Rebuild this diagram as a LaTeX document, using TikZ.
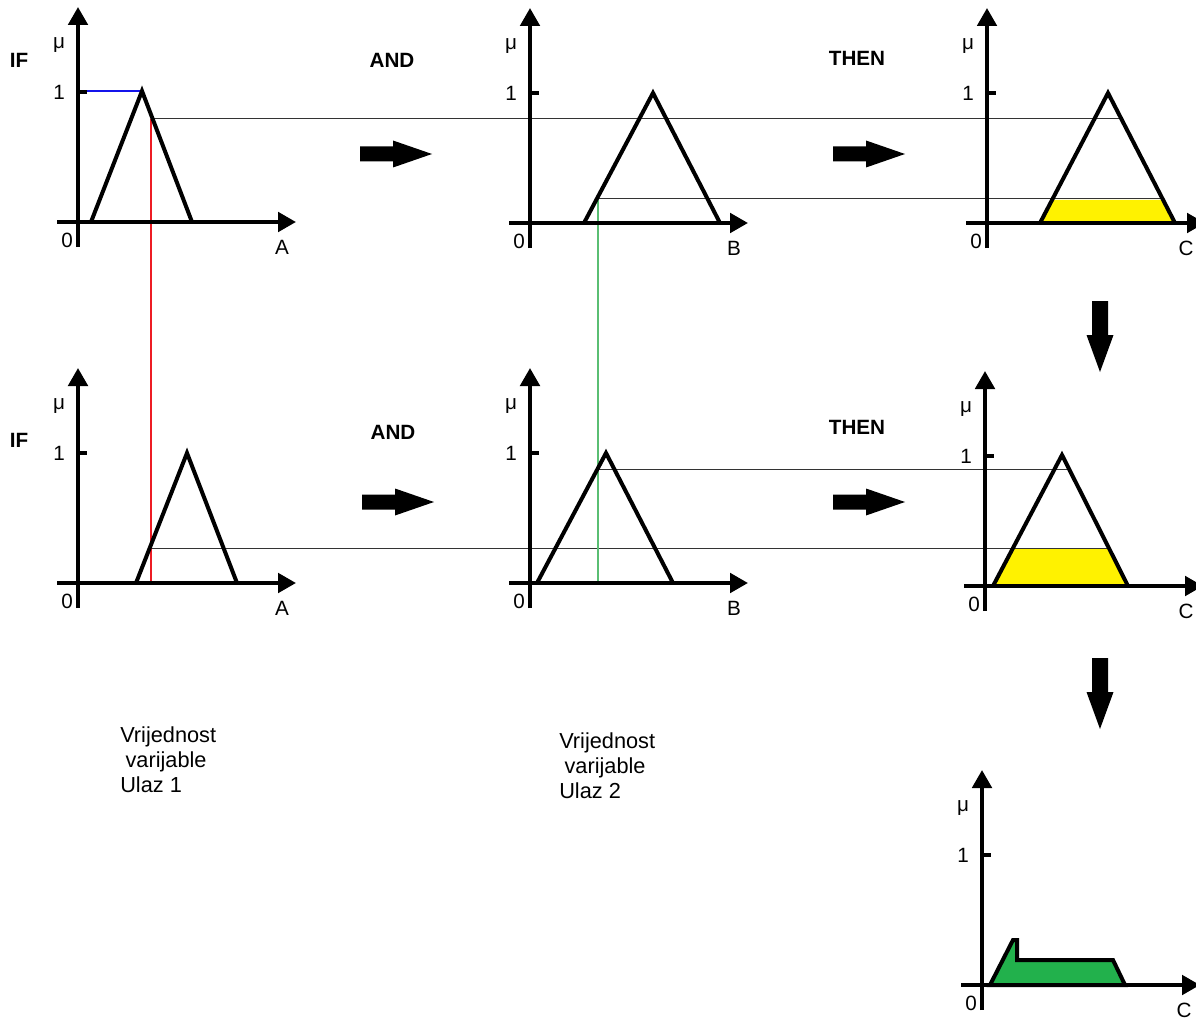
\documentclass[tikz,border=0pt]{standalone}
\usepackage{fontspec}
\setmainfont{Liberation Sans}
\usetikzlibrary{arrows.meta}
\definecolor{pyellow}{RGB}{255,242,0}
\definecolor{pgreen}{RGB}{34,177,76}
\definecolor{pred}{RGB}{237,28,36}
\definecolor{pblue}{RGB}{20,20,235}
\definecolor{lgreen}{RGB}{90,190,115}
\tikzset{
  every node/.style={inner sep=0pt, font=\fontsize{15.5pt}{18.5pt}\selectfont},
  axisline/.style={line width=3pt, -{Triangle[length=13.5pt,width=14.5pt]}},
  plainaxis/.style={line width=3pt},
  fuzzyset/.style={line width=3pt, line join=miter},
  thinline/.style={line width=0.75pt, black!80},
  kw/.style={font=\bfseries\fontsize{15.5pt}{18.5pt}\selectfont},
  caption/.style={align=left, anchor=north west, font=\fontsize{16.3pt}{18.8pt}\selectfont},
  varx/.store in=\varx, varx=204,
  axes/.pic={
    \draw[axisline] (0,25) -- (0,-215);
    \draw[axisline] (-21,0) -- (218,0);
    \draw[plainaxis] (-2,-130) -- (9,-130);
    \node (-mu) at (-19,-177) {μ};
    \node (-one) at (-19,-130) {1};
    \node (-zero) at (-11,18) {0};
    \node (-var) at (\varx,25) {#1};
  },
  rarrow/.pic={
    \fill (0,-7.5) -- (33,-7.5) -- (33,-13.5) -- (72,0) -- (33,13.5) -- (33,7.5) -- (0,7.5) -- cycle;
  },
  darrow/.pic={
    \fill (-8,0) -- (-8,34) -- (-13.5,34) -- (0,71) -- (13.5,34) -- (8,34) -- (8,0) -- cycle;
  }
}
\begin{document}
\begin{tikzpicture}[x=0.75pt,y=-0.75pt]
\useasboundingbox (0,0) rectangle (1196,1020);

% ---- key points of the membership functions
\coordinate (a1l) at (91,222);  \coordinate (a1p) at (142,91);  \coordinate (a1r) at (192,222);
\coordinate (b1l) at (584,223); \coordinate (b1p) at (653,93);  \coordinate (b1r) at (720,223);
\coordinate (c1l) at (1040,223);\coordinate (c1p) at (1108,93); \coordinate (c1r) at (1175,223);
\coordinate (a2l) at (136,583); \coordinate (a2p) at (187,453); \coordinate (a2r) at (237,583);
\coordinate (b2l) at (537,583); \coordinate (b2p) at (606,453); \coordinate (b2r) at (673,583);
\coordinate (c2l) at (993,586); \coordinate (c2p) at (1062,455);\coordinate (c2r) at (1128,586);

% ---- input values and cut levels
\coordinate (in1top) at (151,119);  \coordinate (in1bot) at (151,583);
\coordinate (in2top) at (598,199);  \coordinate (in2bot) at (598,583);
\coordinate (cutA1) at (1121,119);
\coordinate (cutB1) at (1163,199);
\coordinate (in1mid) at (151,548);  \coordinate (cutA2) at (1109,548);
\coordinate (in2mid) at (598,469);  \coordinate (cutB2) at (1069,469);
\coordinate (tick1) at (86,91);

% ---- clipped (yellow) consequents
\fill[pyellow] (c1l) -- (1052,200) -- (1163,200) -- (c1r) -- cycle;
\fill[pyellow] (c2l) -- (1013,548) -- (1109,548) -- (c2r) -- cycle;

% ---- thin guide lines
\draw[thinline] (in1top) -- (cutA1);
\draw[thinline] (in2top) -- (cutB1);
\draw[thinline] (in1mid) -- (cutA2);
\draw[thinline] (in2mid) -- (cutB2);
\draw[line width=0.9pt, pred] (in1top) -- (in1bot);
\draw[line width=0.9pt, lgreen] (in2top) -- (in2bot);
\draw[line width=0.9pt, pblue] (tick1) -- (a1p);

% ---- axes
\pic (p1) at (78,222) {axes=A};
\pic (p2) at (530,223) {axes=B};
\pic[varx=199] (p3) at (987,223) {axes=C};
\pic (p4) at (78,583) {axes=A};
\pic (p5) at (530,583) {axes=B};
\pic[varx=201] (p6) at (985,586) {axes=C};
\pic[varx=202] (p7) at (982,985) {axes=C};

% ---- membership functions
\draw[fuzzyset] (a1l) -- (a1p) -- (a1r);
\draw[fuzzyset] (b1l) -- (b1p) -- (b1r);
\draw[fuzzyset] (c1l) -- (c1p) -- (c1r);
\draw[fuzzyset] (a2l) -- (a2p) -- (a2r);
\draw[fuzzyset] (b2l) -- (b2p) -- (b2r);
\draw[fuzzyset] (c2l) -- (c2p) -- (c2r);

% ---- aggregated output
\draw[fuzzyset, fill=pgreen] (990,985) -- (1013,940) -- (1017,940) -- (1017,960)
  -- (1113,960) -- (1125,985) -- cycle;

% ---- block arrows
\pic (r1) at (360,154) {rarrow};
\pic (r2) at (833,154) {rarrow};
\pic (r3) at (362,502) {rarrow};
\pic (r4) at (833,502) {rarrow};
\pic (d1) at (1100,301) {darrow};
\pic (d2) at (1100,658) {darrow};

% ---- keywords
\node[kw] (if1) at (19,60) {IF};
\node[kw] (and1) at (392,60) {AND};
\node[kw] (then1) at (857,58) {THEN};
\node[kw] (if2) at (19,440) {IF};
\node[kw] (and2) at (393,432) {AND};
\node[kw] (then2) at (857,427) {THEN};

% ---- captions
\node[caption] (cap1) at (120,726) {Vrijednost\\\hspace*{4pt}varijable\\Ulaz 1};
\node[caption] (cap2) at (559,732) {Vrijednost\\\hspace*{4pt}varijable\\Ulaz 2};
\end{tikzpicture}
\end{document}
